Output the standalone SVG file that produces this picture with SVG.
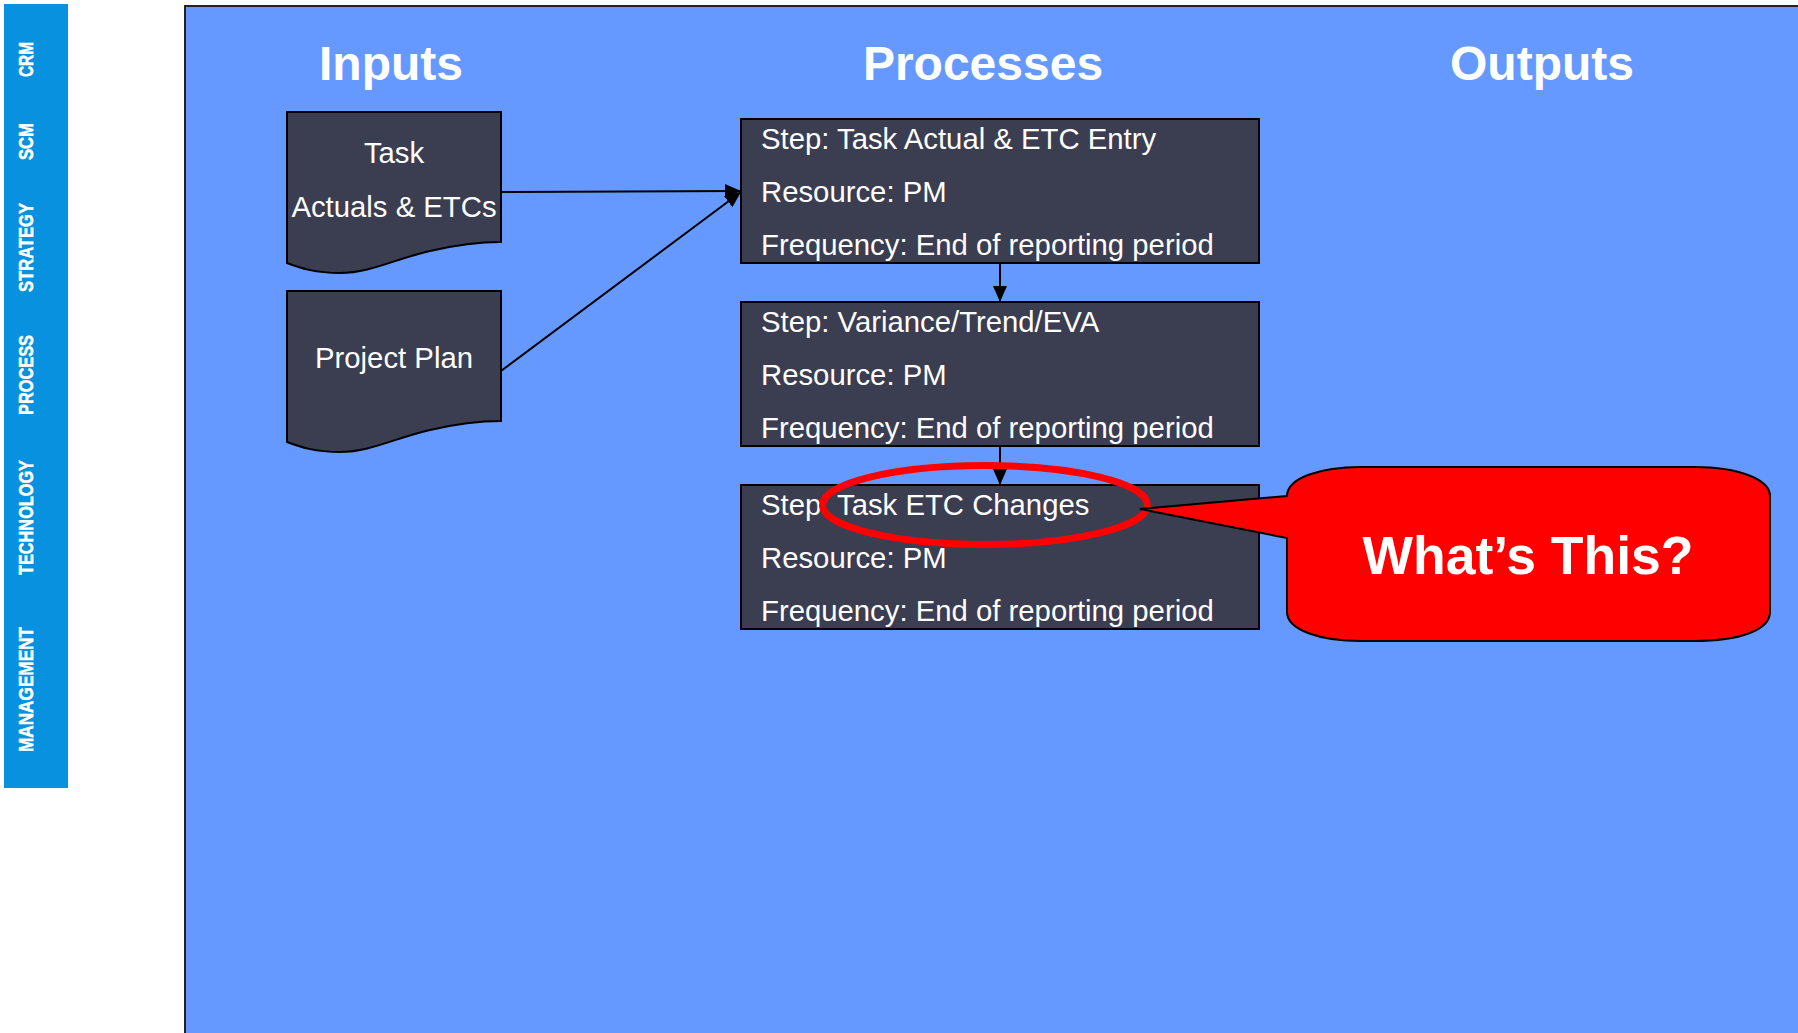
<svg xmlns="http://www.w3.org/2000/svg" width="1798" height="1033" viewBox="0 0 1798 1033">
  <style>
    .side { fill: #ffffff; stroke: #ffffff; stroke-width: 0.5; font-family: "Liberation Sans Narrow", "Liberation Sans", Arial, sans-serif; font-weight: bold; font-size: 20px; }
    .title { fill: #ffffff; font-family: "Liberation Sans", Arial, sans-serif; font-weight: bold; font-size: 48px; text-anchor: middle; }
    .body { fill: #ffffff; font-family: "Liberation Sans", Arial, sans-serif; font-size: 29.3px; }
    .mid { text-anchor: middle; }
    .shape { fill: #3b3d50; stroke: #000000; stroke-width: 2; }
    .conn { stroke: #000000; stroke-width: 2; fill: none; }
  </style>
  <defs>
    <marker id="arrow" markerUnits="userSpaceOnUse" markerWidth="16" markerHeight="14" refX="16" refY="7" orient="auto">
      <path d="M0,0 L16,7 L0,14 Z" fill="#000000"/>
    </marker>
    <path id="docShape" d="M287,112 H501 V242 C480,242 460,244 430,251 C395,259 370,273 340,273 C315,273 300,268 287,263 Z"/>
  </defs>

  <!-- side navigation bar -->
  <g id="sidebar">
    <rect x="4" y="4" width="64" height="784" fill="#0891df"/>
    <text class="side" text-anchor="middle" textLength="35" lengthAdjust="spacingAndGlyphs" transform="translate(33,59.5) rotate(-90)">CRM</text>
    <text class="side" text-anchor="middle" textLength="37" lengthAdjust="spacingAndGlyphs" transform="translate(33,141.5) rotate(-90)">SCM</text>
    <text class="side" text-anchor="middle" textLength="89" lengthAdjust="spacingAndGlyphs" transform="translate(33,247.5) rotate(-90)">STRATEGY</text>
    <text class="side" text-anchor="middle" textLength="80" lengthAdjust="spacingAndGlyphs" transform="translate(33,375) rotate(-90)">PROCESS</text>
    <text class="side" text-anchor="middle" textLength="115" lengthAdjust="spacingAndGlyphs" transform="translate(33,517.5) rotate(-90)">TECHNOLOGY</text>
    <text class="side" text-anchor="middle" textLength="125" lengthAdjust="spacingAndGlyphs" transform="translate(33,689.5) rotate(-90)">MANAGEMENT</text>
  </g>

  <!-- main panel -->
  <rect x="185" y="6" width="1615" height="1030" fill="#6699ff" stroke="#222222" stroke-width="2"/>

  <g id="headers">
    <text class="title" x="391" y="80">Inputs</text>
    <text class="title" x="983" y="80">Processes</text>
    <text class="title" x="1542" y="80">Outputs</text>
  </g>

  <!-- input documents -->
  <g id="doc-task-actuals">
    <use href="#docShape" class="shape"/>
    <text class="body mid" x="394" y="163">Task</text>
    <text class="body mid" x="394" y="216.5">Actuals &amp; ETCs</text>
  </g>
  <g id="doc-project-plan">
    <use href="#docShape" class="shape" transform="translate(0,179)"/>
    <text class="body mid" x="394" y="367.5">Project Plan</text>
  </g>

  <!-- process steps -->
  <g id="step-entry">
    <rect class="shape" x="741" y="119" width="518" height="144"/>
    <text class="body" x="761" y="149">Step: Task Actual &amp; ETC Entry</text>
    <text class="body" x="761" y="202">Resource: PM</text>
    <text class="body" x="761" y="255">Frequency: End of reporting period</text>
  </g>
  <g id="step-variance">
    <rect class="shape" x="741" y="302" width="518" height="144"/>
    <text class="body" x="761" y="332">Step: Variance/Trend/EVA</text>
    <text class="body" x="761" y="385">Resource: PM</text>
    <text class="body" x="761" y="438">Frequency: End of reporting period</text>
  </g>
  <g id="step-etc-changes">
    <rect class="shape" x="741" y="485" width="518" height="144"/>
    <text class="body" x="761" y="515">Step: Task ETC Changes</text>
    <text class="body" x="761" y="568">Resource: PM</text>
    <text class="body" x="761" y="621">Frequency: End of reporting period</text>
  </g>

  <!-- connectors -->
  <g id="connectors">
    <line class="conn" x1="501" y1="192" x2="741" y2="191" marker-end="url(#arrow)"/>
    <line class="conn" x1="501" y1="371" x2="741" y2="192" marker-end="url(#arrow)"/>
    <line class="conn" x1="1000" y1="263" x2="1000" y2="302" marker-end="url(#arrow)"/>
    <line class="conn" x1="1000" y1="446" x2="1000" y2="485" marker-end="url(#arrow)"/>
  </g>

  <!-- highlight ring and callout -->
  <g id="highlight">
    <ellipse cx="985" cy="505" rx="162.5" ry="39.5" fill="none" stroke="#ff0000" stroke-width="7"/>
  </g>
  <g id="callout">
    <path d="M1140,509 L1287,496 C1287,478 1320,467 1361,467 H1694 C1740,467 1770,480 1770,496 V612 C1770,630 1740,641 1694,641 H1361 C1320,641 1287,630 1287,612 V538 Z" fill="#ff0000" stroke="#000000" stroke-width="2" stroke-linejoin="miter"/>
    <text class="title" x="1528" y="574" style="font-size:53.5px">What’s This?</text>
  </g>
</svg>
